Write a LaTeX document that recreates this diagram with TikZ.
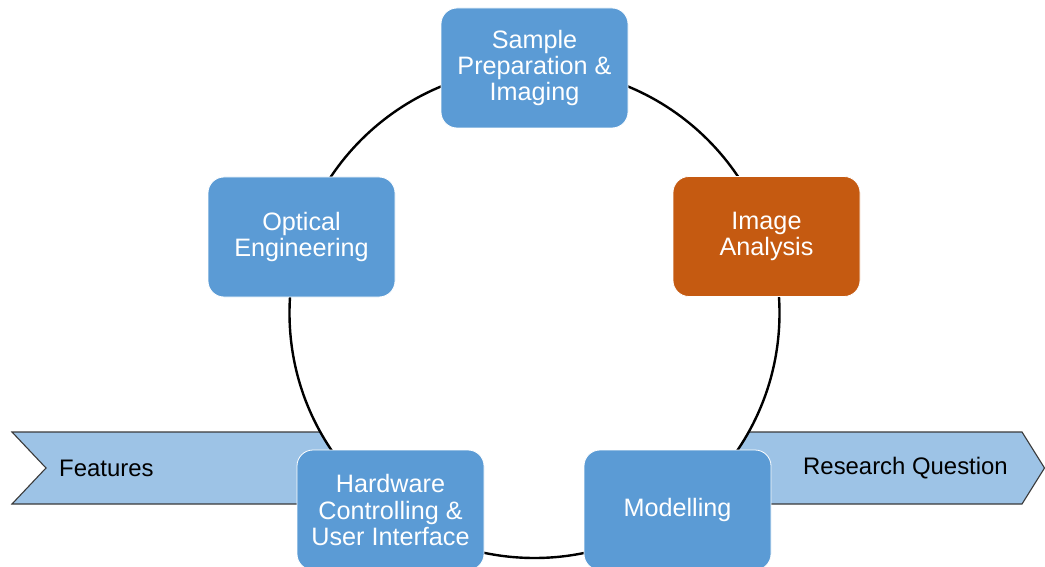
\documentclass[tikz,border=0pt]{standalone}
\usepackage{fontspec}
\setmainfont{Liberation Sans}
\definecolor{boxblue}{HTML}{5B9BD5}
\definecolor{boxorange}{HTML}{C55A11}
\definecolor{bannerblue}{HTML}{9DC3E6}
\definecolor{bannerline}{HTML}{3A3A3A}
\tikzset{
  stagebox/.style={rectangle, rounded corners=16pt, fill=boxblue, draw=white, line width=0.8pt,
    minimum width=187pt, minimum height=120pt, inner sep=0pt, align=center, text=white,
    font=\fontsize{25.2}{26.2}\selectfont},
  hotbox/.style={stagebox, fill=boxorange},
  bannertext/.style={inner sep=0pt, text=black, font=\fontsize{23.9}{26}\selectfont},
  ring/.style={circle, draw=black, line width=2.4pt, fill=white, minimum size=490pt, inner sep=0pt},
  banner/.style={fill=bannerblue, draw=bannerline, line width=1.1pt, line join=miter}
}
\begin{document}
\begin{tikzpicture}[x=1pt, y=-1pt]
\useasboundingbox (0,0) rectangle (1045,567);
% banner
\coordinate (bTL) at (12,432);
\coordinate (bNotch) at (46,468);
\coordinate (bBL) at (12,504);
\coordinate (bTR) at (1022,432);
\coordinate (bTip) at (1044.5,468);
\coordinate (bBR) at (1022,504);
\path[banner] (bTL) -- (bTR) -- (bTip) -- (bBR) -- (bBL) -- (bNotch) -- cycle;
% ring
\node[ring] (cycle) at (534.5,313) {};
% banner labels
\node[bannertext, anchor=west] (feat) at (59,468) {Features};
\node[bannertext] (rq) at (905.5,468) {Research Question};
% stage boxes
\node[stagebox] (sample) at (534.5,68) {Sample\\Preparation \&\\Imaging};
\node[stagebox] (optical) at (301.5,237) {Optical\\Engineering};
\node[hotbox] (analysis) at (766.5,236.5) {Image\\Analysis};
\node[stagebox] (hardware) at (390.5,510) {Hardware\\Controlling \&\\User Interface};
\node[stagebox] (model) at (677.5,510) {Modelling};
\end{tikzpicture}
\end{document}
